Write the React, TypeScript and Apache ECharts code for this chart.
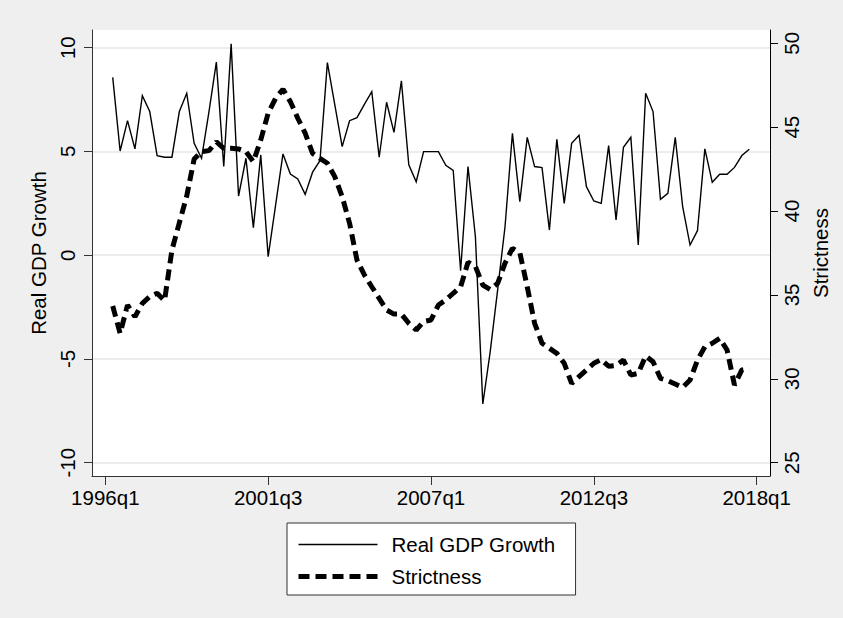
import React, { useEffect, useRef } from "react";
import * as echarts from "echarts";

// Quarterly series, first observation is 1996q2 (index 1 counted from 1996q1)
const firstQuarterIndex = 1;

const gdpGrowth = [
  8.57, 5.02, 6.48, 5.12, 7.69, 6.92, 4.8, 4.72, 4.72, 6.92,
  7.8, 5.39, 4.67, 6.9, 9.3, 4.27, 10.18, 2.85, 4.67, 1.33,
  4.83, -0.07, 2.4, 4.88, 3.91, 3.67, 2.93, 4.0, 4.55, 9.28,
  7.25, 5.23, 6.48, 6.63, 7.27, 7.88, 4.72, 7.37, 5.92, 8.4,
  4.35, 3.54, 4.99, 4.99, 4.99, 4.33, 4.09, -0.75, 4.27, 0.89,
  -7.17, -4.65, -1.68, 1.37, 5.87, 2.58, 5.68, 4.27, 4.22, 1.21,
  5.58, 2.5, 5.39, 5.78, 3.3, 2.61, 2.5, 5.28, 1.7, 5.2,
  5.68, 0.49, 7.8, 6.92, 2.69, 2.98, 5.68, 2.34, 0.49, 1.18,
  5.12, 3.51, 3.9, 3.9, 4.23, 4.8, 5.1,
];

const strictness = [
  34.34, 32.71, 34.4, 33.7, 34.5, 34.9, 35.1, 34.66, 37.68, 39.3,
  40.9, 43.1, 43.54, 43.6, 44.13, 43.74, 43.74, 43.7, 43.54, 42.94,
  44.24, 45.83, 46.72, 47.26, 46.52, 45.53, 44.64, 43.44, 43.14, 42.85,
  42.05, 40.86, 39.27, 37.08, 36.19, 35.49, 34.8, 34.1, 33.86, 33.86,
  33.31, 32.91, 33.41, 33.51, 34.4, 34.7, 35.1, 35.49, 36.95, 36.7,
  35.59, 35.33, 35.69, 36.89, 37.78, 37.52, 35.49, 33.31, 32.12, 31.82,
  31.52, 30.93, 29.73, 30.13, 30.53, 30.93, 31.15, 30.75, 30.8, 31.12,
  30.23, 30.33, 31.36, 31.02, 30.03, 29.89, 29.69, 29.49, 29.93, 31.12,
  31.91, 32.12, 32.41, 31.72, 29.63, 30.53, 30.63,
];

const xTickPositions = [0, 22, 44, 66, 88];
const xTickLabels = ["1996q1", "2001q3", "2007q1", "2012q3", "2018q1"];
const gdpTicks = [-10, -5, 0, 5, 10];
const strictTicks = [25, 30, 35, 40, 45, 50];

const FONT = '"Liberation Sans", Arial, Helvetica, sans-serif';
const FS = 20.5;
const AXIS_COLOR = "#333333";
const DASH = [11, 6];

export default function App() {
  const ref = useRef<HTMLDivElement | null>(null);

  useEffect(() => {
    if (!ref.current) return;
    const chart = echarts.init(ref.current, null, { renderer: "svg" });

    const gdpData = gdpGrowth.map((v, i) => [i + firstQuarterIndex, v]);
    const strictData = strictness.map((v, i) => [i + firstQuarterIndex, v]);

    const labelFor = (v: number) => {
      const k = xTickPositions.indexOf(Math.round(v));
      return k >= 0 ? xTickLabels[k] : "";
    };

    chart.setOption({
      animation: false,
      backgroundColor: "#efefef",
      textStyle: { fontFamily: FONT },
      grid: {
        left: 92,
        right: 73,
        top: 30,
        bottom: 142,
        show: true,
        backgroundColor: "#ffffff",
        borderWidth: 0,
      },
      legend: {
        orient: "vertical",
        left: 287,
        top: 523,
        padding: [11, 20, 8, 9],
        itemGap: 11,
        itemWidth: 79,
        itemHeight: 20,
        backgroundColor: "#ffffff",
        borderColor: "#333333",
        borderWidth: 1,
        borderRadius: 0,
        textStyle: {
          fontSize: FS,
          color: "#000000",
          fontFamily: FONT,
          padding: [0, 0, 0, 9],
        },
        data: [
          {
            name: "Real GDP Growth",
            lineStyle: { width: 1.4, color: "#000000", type: "solid" },
            itemStyle: { opacity: 0 },
          },
          {
            name: "Strictness",
            lineStyle: { width: 5, color: "#000000", type: DASH },
            itemStyle: { opacity: 0 },
          },
        ],
      },
      xAxis: {
        type: "value",
        min: -1.8,
        max: 89.8,
        position: "bottom",
        axisLine: { show: true, onZero: false, lineStyle: { color: AXIS_COLOR, width: 1 } },
        axisTick: {
          show: true,
          length: 9,
          customValues: xTickPositions,
          lineStyle: { color: AXIS_COLOR, width: 1 },
        },
        axisLabel: {
          customValues: xTickPositions,
          formatter: labelFor,
          fontSize: FS,
          color: "#000000",
          fontFamily: FONT,
          margin: 11,
        },
        splitLine: { show: false },
      },
      yAxis: [
        {
          type: "value",
          position: "left",
          min: -10.64,
          max: 10.85,
          name: "Real GDP Growth",
          nameLocation: "middle",
          nameRotate: 90,
          nameGap: 42,
          nameTextStyle: { fontSize: FS, color: "#000000", fontFamily: FONT },
          axisLine: { show: true, onZero: false, lineStyle: { color: AXIS_COLOR, width: 1 } },
          axisTick: {
            show: true,
            length: 8,
            customValues: gdpTicks,
            lineStyle: { color: AXIS_COLOR, width: 1 },
          },
          axisLabel: {
            customValues: gdpTicks,
            rotate: 90,
            fontSize: FS,
            color: "#000000",
            fontFamily: FONT,
            margin: 14,
          },
          splitLine: { show: true, lineStyle: { color: "#e6e6e6", width: 1.5 } },
        },
        {
          type: "value",
          position: "right",
          min: 24.21,
          max: 50.79,
          name: "Strictness",
          nameLocation: "middle",
          nameRotate: 90,
          nameGap: 33,
          nameTextStyle: { fontSize: FS, color: "#000000", fontFamily: FONT },
          axisLine: { show: true, onZero: false, lineStyle: { color: "#000000", width: 1 } },
          axisTick: {
            show: true,
            length: 8,
            customValues: strictTicks,
            lineStyle: { color: "#000000", width: 1 },
          },
          axisLabel: {
            customValues: strictTicks,
            rotate: 90,
            fontSize: FS,
            color: "#000000",
            fontFamily: FONT,
            margin: 11,
          },
          splitLine: { show: false },
        },
      ],
      series: [
        {
          name: "Real GDP Growth",
          type: "line",
          yAxisIndex: 0,
          data: gdpData,
          symbol: "none",
          lineStyle: { color: "#000000", width: 1.4, join: "miter" },
          itemStyle: { color: "#000000" },
          z: 2,
        },
        {
          name: "Strictness",
          type: "line",
          yAxisIndex: 1,
          data: strictData,
          symbol: "none",
          lineStyle: { color: "#000000", width: 5, type: DASH, cap: "butt" },
          itemStyle: { color: "#000000" },
          z: 3,
        },
      ],
    });

    return () => chart.dispose();
  }, []);

  return (
    <div
      ref={ref}
      style={{ position: "absolute", left: 0, top: 0, width: 843, height: 618 }}
    />
  );
}
